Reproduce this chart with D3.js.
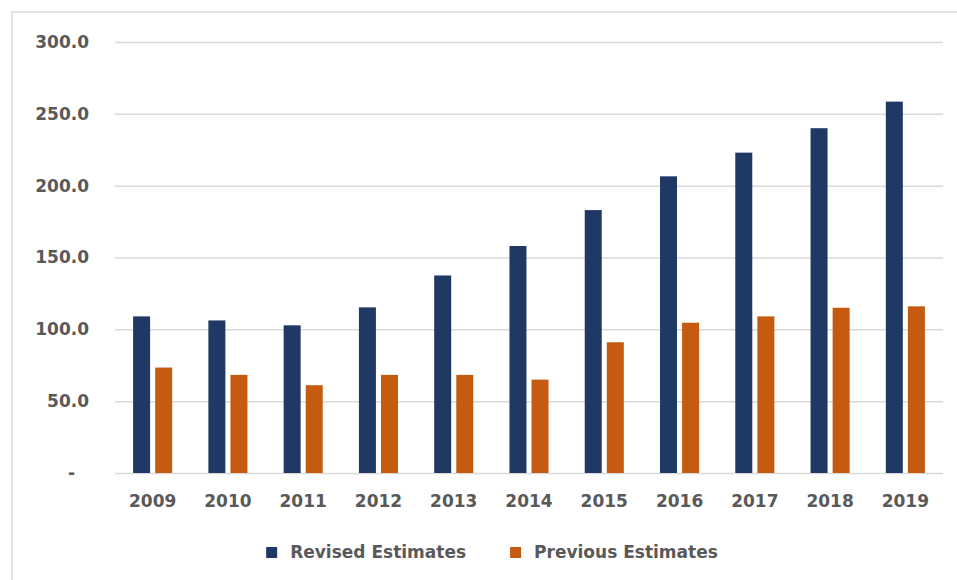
<!DOCTYPE html>
<html>
<head>
<meta charset="utf-8">
<script src="https://cdn.jsdelivr.net/npm/d3@7"></script>
<style>
  body { margin: 0; background: #fff; }
  text { font-family: "DejaVu Sans", sans-serif; font-weight: bold; fill: #595959; }
</style>
</head>
<body>
<svg id="chart" width="957" height="580"></svg>
<script>
// data
var years = ["2009","2010","2011","2012","2013","2014","2015","2016","2017","2018","2019"];
var series = ["Revised Estimates", "Previous Estimates"];
var revised = [109.0, 106.2, 102.8, 115.3, 137.5, 158.0, 183.0, 206.5, 223.0, 240.0, 258.5];
var previous = [73.4, 68.3, 61.1, 68.3, 68.3, 65.0, 91.0, 104.6, 109.0, 115.0, 116.0];
var yTicks = [0, 50, 100, 150, 200, 250, 300];
var colors = ["#203864", "#C55A11"];

var svg = d3.select("#chart");

// outer chart border (runs off the right and bottom edges)
svg.append("rect")
  .attr("x", 12).attr("y", 12)
  .attr("width", 960).attr("height", 600)
  .attr("fill", "none")
  .attr("stroke", "#D9D9D9")
  .attr("stroke-width", 1.5);

// plot area (note: "top" is taken by window.top)
var plotL = 115, plotR = 943, plotT = 42, plotB = 473;

var y = d3.scaleLinear().domain([0, 300]).range([plotB, plotT]);

var x0 = d3.scaleBand().domain(years).range([plotL, plotR]);
var x1 = d3.scaleBand().domain(series).range([0, x0.bandwidth()])
  .paddingInner(0.23).paddingOuter(0.82);

// y axis + gridlines
var yAxis = d3.axisLeft(y)
  .tickValues(yTicks)
  .tickSize(-(plotR - plotL))
  .tickPadding(26)
  .tickFormat(function(d){ return d === 0 ? "-" : d3.format(".1f")(d); });

var gy = svg.append("g").attr("transform", "translate(" + plotL + ",0)").call(yAxis);
gy.select(".domain").remove();
gy.selectAll(".tick line").attr("stroke", "#D9D9D9").attr("stroke-width", 1.5);
gy.selectAll(".tick text").attr("font-size", 17).attr("fill", "#595959")
  .attr("dx", function(d){ return d === 0 ? -14 : 0; });

// bars
var rows = years.map(function(yr, i){ return {year: yr, vals: [revised[i], previous[i]]}; });

var groups = svg.append("g").selectAll("g")
  .data(rows).enter().append("g")
  .attr("transform", function(d){ return "translate(" + x0(d.year) + ",0)"; });

groups.selectAll("rect")
  .data(function(d){ return d.vals.map(function(v, j){ return {s: series[j], v: v, c: colors[j]}; }); })
  .enter().append("rect")
  .attr("x", function(d){ return x1(d.s); })
  .attr("width", x1.bandwidth())
  .attr("y", function(d){ return y(d.v); })
  .attr("height", function(d){ return y(0) - y(d.v); })
  .attr("fill", function(d){ return d.c; });

// x axis labels
var xAxis = d3.axisBottom(x0).tickSize(0).tickPadding(22);
var gx = svg.append("g").attr("transform", "translate(0," + plotB + ")").call(xAxis);
gx.select(".domain").remove();
gx.selectAll(".tick text").attr("font-size", 17).attr("fill", "#595959");

// legend
var legend = svg.append("g");
var lx = 0;
series.forEach(function(s, i){
  var item = legend.append("g").attr("transform", "translate(" + lx + ",0)");
  item.append("rect").attr("x", 0).attr("y", -11).attr("width", 11).attr("height", 11).attr("fill", colors[i]);
  var t = item.append("text").attr("x", 24).attr("y", 0).attr("font-size", 17).text(s);
  lx += 24 + t.node().getComputedTextLength() + 44;
});
var totalW = lx - 44;
legend.attr("transform", "translate(" + (492 - totalW / 2) + ",558)");
</script>
</body>
</html>
